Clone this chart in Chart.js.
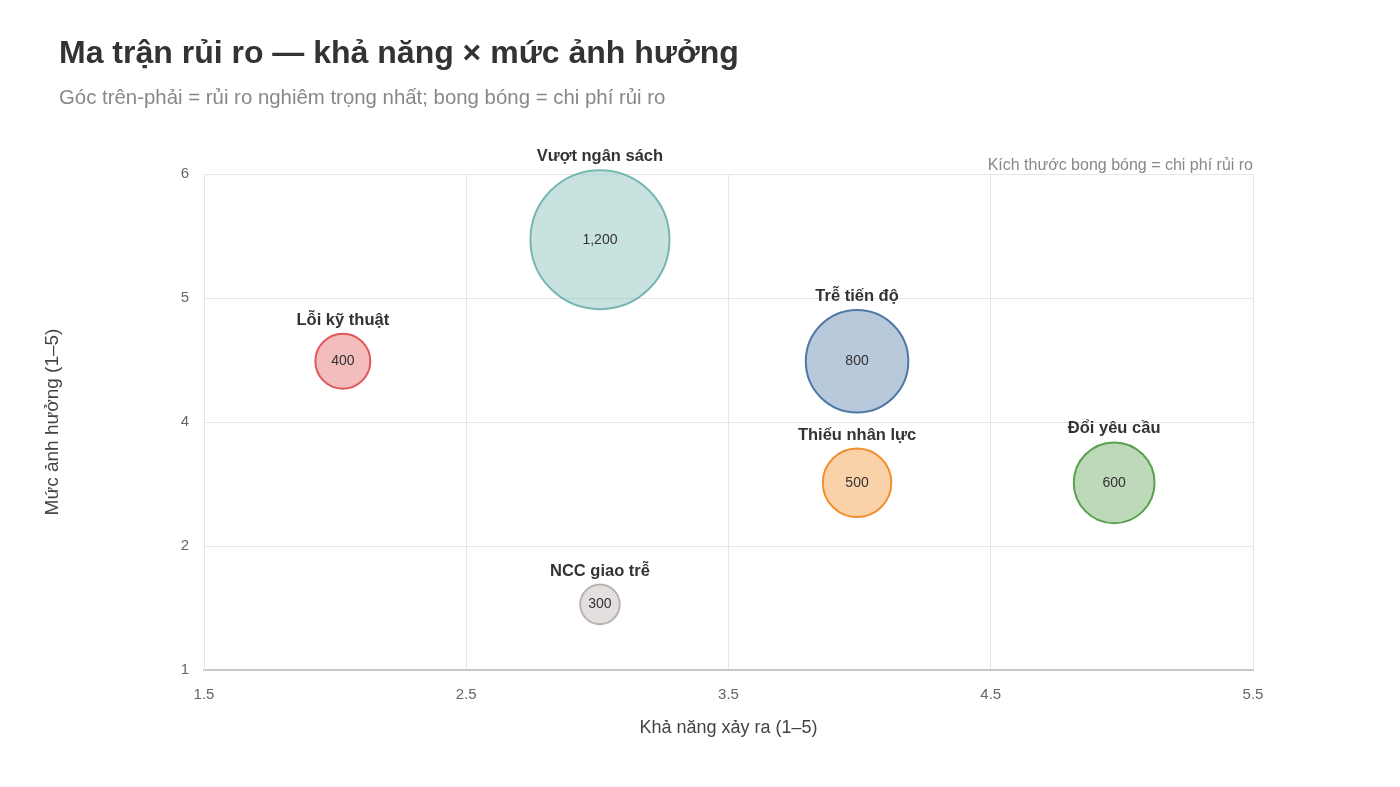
<!DOCTYPE html>
<html><head><meta charset="utf-8">
<script src="https://cdn.jsdelivr.net/npm/chart.js@4/dist/chart.umd.min.js"></script>
<style>
html,body{margin:0;padding:0;background:#fff;}
#wrap{position:relative;width:1400px;height:787px;font-family:"Liberation Sans",Arial,sans-serif;}
#title{position:absolute;left:59px;top:33px;font-size:32px;font-weight:bold;color:#333;line-height:38px;white-space:nowrap;}
#sub{position:absolute;left:59px;top:85px;font-size:20.4px;color:#888;line-height:24px;white-space:nowrap;}
canvas{position:absolute;left:0;top:0;}
</style></head><body>
<div id="wrap">
<canvas id="c" width="1400" height="787"></canvas>
<div id="title">Ma trận rủi ro — khả năng × mức ảnh hưởng</div>
<div id="sub">Góc trên-phải = rủi ro nghiêm trọng nhất; bong bóng = chi phí rủi ro</div>
</div>
<script>
const risks = ['Lỗi kỹ thuật','Vượt ngân sách','Trễ tiến độ','Thiếu nhân lực','Đổi yêu cầu','NCC giao trễ'];
const likelihood = [2, 3, 4, 4, 5, 3];
const impact = [4, 5, 4, 3, 3, 2];
const cost = [400, 1200, 800, 500, 600, 300];
const xTickLabels = ['1.5','2.5','3.5','4.5','5.5'];
const yTickLabels = ['1','2','4','5','6'];
const xTitle = 'Khả năng xảy ra (1–5)';
const yTitle = 'Mức ảnh hưởng (1–5)';
const noteText = 'Kích thước bong bóng = chi phí rủi ro';

const colors = ['#e15759','#76b7b2','#4e79a7','#f28e2b','#59a14f','#bab0ac'];
function hexA(h,a){const n=parseInt(h.slice(1),16);return `rgba(${n>>16},${(n>>8)&255},${n&255},${a})`;}

const FONT = '"Liberation Sans", Arial, sans-serif';
const AXMIN = 1.46, AXMAX = 5.54;
const cMin = Math.min(...cost), cMax = Math.max(...cost);
function radiusFor(v){
  const t = (Math.sqrt(v)-Math.sqrt(cMin))/(Math.sqrt(cMax)-Math.sqrt(cMin));
  return 19.8 + t*(69.5-19.8);
}
const points = risks.map((n,i)=>({x:likelihood[i], y:impact[i], r:radiusFor(cost[i])}));

function evenTicks(scale){
  const arr=[];for(let i=0;i<5;i++)arr.push({value:AXMIN+i*(AXMAX-AXMIN)/4});
  scale.ticks=arr;
}

const labelPlugin = {
  id:'labels',
  afterDatasetsDraw(chart){
    const ctx=chart.ctx, meta=chart.getDatasetMeta(0), ca=chart.chartArea;
    ctx.save();
    meta.data.forEach((el,i)=>{
      const r = el.options.radius;
      ctx.textAlign='center';
      ctx.fillStyle='#333';
      ctx.font='bold 16.5px '+FONT;
      ctx.textBaseline='alphabetic';
      ctx.fillText(risks[i], el.x, el.y - r - 1 - 8);
      ctx.font='14px '+FONT;
      ctx.textBaseline='middle';
      ctx.fillText(cost[i].toLocaleString('en-US'), el.x, el.y);
    });
    ctx.font='16px '+FONT;
    ctx.fillStyle='#888';
    ctx.textAlign='right';
    ctx.textBaseline='middle';
    ctx.fillText(noteText, ca.right, ca.top-8);
    ctx.restore();
  }
};

new Chart(document.getElementById('c'), {
  type:'bubble',
  data:{datasets:[{
    data:points,
    backgroundColor:colors.map(c=>hexA(c,0.4)),
    borderColor:colors,
    borderWidth:2,
    hoverRadius:0,
    clip:false
  }]},
  options:{
    responsive:false, animation:false, devicePixelRatio:1,
    events:[],
    layout:{padding:{left:0,top:174,right:147,bottom:0}},
    plugins:{legend:{display:false},tooltip:{enabled:false},title:{display:false}},
    scales:{
      x:{
        type:'linear', min:AXMIN, max:AXMAX,
        afterBuildTicks:evenTicks,
        afterFit(s){s.height=117;},
        grid:{color:'#e6e6e6',drawTicks:false},
        border:{color:'#c8c8c8',width:2},
        ticks:{padding:16,color:'#666',font:{family:FONT,size:15},callback:(v,i)=>xTickLabels[i],maxRotation:0,autoSkip:false},
        title:{display:true,text:xTitle,color:'#444',font:{family:FONT,size:18},padding:{top:0,bottom:48}}
      },
      y:{
        type:'linear', min:AXMIN, max:AXMAX,
        afterBuildTicks:evenTicks,
        afterFit(s){s.width=204;},
        grid:{color:'#e6e6e6',drawTicks:false},
        border:{color:'#e6e6e6',width:1},
        ticks:{padding:15,color:'#666',font:{family:FONT,size:15},callback:(v,i)=>yTickLabels[i],autoSkip:false},
        title:{display:true,text:yTitle,color:'#444',font:{family:FONT,size:19},padding:{top:41,bottom:0}}
      }
    }
  },
  plugins:[labelPlugin]
});
</script>
</body></html>
